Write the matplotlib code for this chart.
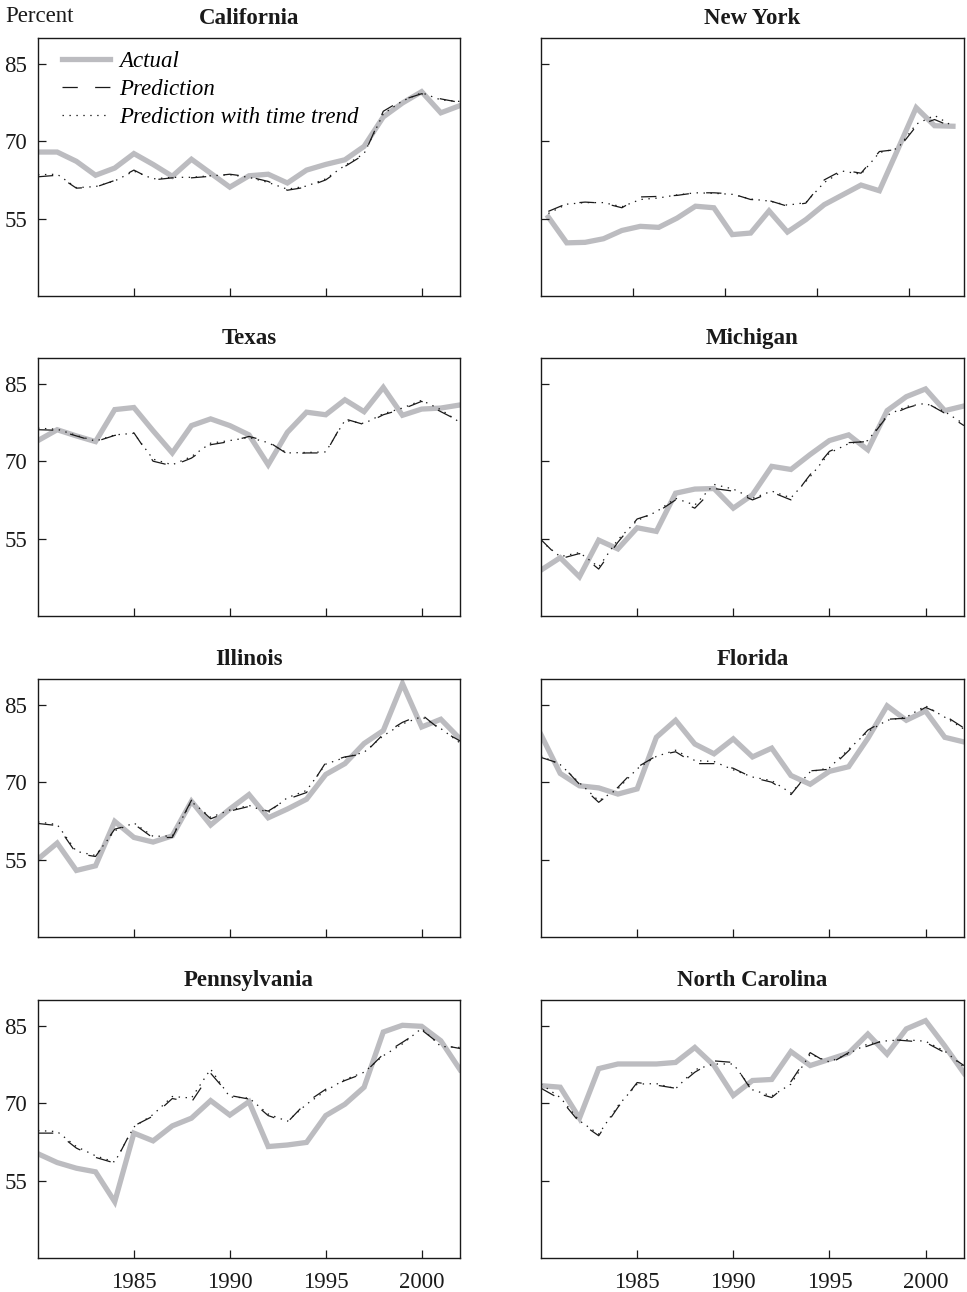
import matplotlib
matplotlib.use("Agg")
import matplotlib.pyplot as plt

plt.rcParams['font.family'] = ['Liberation Serif', 'DejaVu Serif']
plt.rcParams['lines.scale_dashes'] = False

years = list(range(1980, 2003))
states = ['California', 'New York', 'Texas', 'Michigan',
          'Illinois', 'Florida', 'Pennsylvania', 'North Carolina']

# percent, one value per year 1980-2002
actual = {
    'California': [67.9, 67.9, 66.1, 63.4, 64.8, 67.6, 65.5, 63.2, 66.5, 63.8, 61.1, 63.3,
                   63.6, 61.9, 64.4, 65.5, 66.4, 69.0, 74.7, 77.4, 79.6, 75.5, 76.9],
    'New York': [55.3, 50.3, 50.4, 51.1, 52.7, 53.5, 53.3, 55.1, 57.4, 57.1, 51.9, 52.2,
                 56.5, 52.4, 54.8, 57.7, 59.6, 61.5, 60.4, 68.4, 76.5, 73.0, 72.9],
    'Texas': [74.0, 76.1, 74.9, 73.8, 80.0, 80.4, 75.9, 71.6, 76.9, 78.2, 76.9, 75.1,
              69.3, 75.6, 79.5, 79.0, 81.9, 79.6, 84.3, 78.9, 80.1, 80.3, 80.9],
    'Michigan': [48.9, 51.3, 47.6, 54.7, 53.0, 57.1, 56.4, 63.8, 64.6, 64.7, 60.9, 63.5,
                 69.0, 68.4, 71.3, 74.0, 75.1, 72.2, 79.8, 82.5, 84.0, 79.8, 80.7],
    'Illinois': [55.1, 58.2, 52.9, 53.8, 62.4, 59.3, 58.4, 59.6, 66.3, 61.7, 64.8, 67.6,
                 63.1, 64.8, 66.7, 71.5, 73.6, 77.5, 80.0, 89.1, 80.7, 82.2, 78.4],
    'Florida': [79.2, 71.7, 69.3, 68.9, 67.7, 68.7, 78.7, 82.0, 77.4, 75.5, 78.4, 74.9,
                76.6, 71.3, 69.6, 72.1, 73.0, 78.5, 84.8, 82.0, 83.8, 78.7, 77.8],
    'Pennsylvania': [60.2, 58.5, 57.4, 56.7, 50.9, 64.2, 62.7, 65.6, 67.1, 70.5, 67.7, 70.3,
                     61.6, 61.9, 62.4, 67.6, 69.8, 73.1, 83.8, 85.1, 84.9, 82.1, 76.5],
    'North Carolina': [73.4, 73.1, 67.1, 76.7, 77.6, 77.6, 77.6, 77.9, 80.8, 77.3, 71.5, 74.4,
                       74.6, 80.0, 77.3, 78.5, 79.7, 83.4, 79.5, 84.4, 86.0, 81.1, 75.8],
}

prediction = {
    'California': [63.1, 63.4, 60.9, 61.1, 62.4, 64.4, 62.5, 62.9, 62.9, 63.2, 63.6, 63.1,
                   62.2, 60.5, 61.1, 62.5, 65.1, 67.4, 75.8, 78.0, 79.2, 78.2, 77.5],
    'New York': [56.4, 57.9, 58.2, 58.0, 57.1, 59.2, 59.3, 59.5, 60.0, 60.0, 59.8, 58.7,
                 58.5, 57.4, 58.0, 62.5, 64.4, 63.8, 68.0, 68.4, 72.9, 74.2, 72.7],
    'Texas': [76.1, 76.0, 74.9, 73.8, 75.0, 75.5, 70.0, 69.1, 70.6, 73.2, 73.8, 74.8,
              73.8, 71.4, 71.6, 71.6, 78.2, 77.1, 79.0, 80.1, 81.6, 79.6, 77.7],
    'Michigan': [54.8, 51.1, 52.1, 49.1, 54.3, 58.8, 60.0, 62.5, 60.9, 64.7, 64.2, 62.5,
                 64.0, 62.5, 67.4, 71.9, 73.6, 73.8, 78.7, 80.3, 81.4, 79.3, 76.9],
    'Illinois': [62.0, 61.6, 56.2, 55.6, 60.9, 61.9, 59.2, 59.3, 66.5, 62.9, 64.4, 65.3,
                 64.4, 66.7, 68.0, 73.8, 74.9, 75.5, 79.3, 81.6, 83.1, 80.1, 78.0],
    'Florida': [74.8, 73.6, 69.6, 66.1, 69.0, 72.9, 75.1, 75.9, 73.6, 73.6, 72.7, 70.9,
                70.0, 67.6, 72.2, 72.5, 76.1, 80.1, 82.2, 82.4, 84.5, 82.9, 80.5],
    'Pennsylvania': [64.2, 64.2, 61.3, 59.5, 58.4, 65.6, 67.5, 70.9, 70.2, 75.8, 71.5, 70.8,
                     67.6, 66.3, 70.2, 72.7, 74.4, 75.8, 79.5, 81.8, 84.2, 81.3, 80.6],
    'North Carolina': [72.9, 70.8, 66.3, 63.7, 69.2, 74.0, 73.5, 72.9, 76.0, 78.2, 77.9, 72.2,
                       71.1, 74.2, 79.8, 77.6, 79.8, 81.1, 82.4, 82.1, 81.8, 79.8, 77.3],
}

prediction_trend = {
    'California': [63.5, 63.6, 61.0, 61.2, 62.3, 64.2, 62.7, 63.0, 63.0, 63.3, 63.5, 63.0,
                   62.0, 60.7, 61.3, 62.7, 65.3, 67.6, 75.3, 77.8, 79.4, 78.0, 77.7],
    'New York': [56.0, 57.8, 58.1, 58.1, 57.3, 58.7, 59.0, 59.6, 60.0, 59.9, 59.7, 58.8,
                 58.4, 57.6, 58.1, 62.0, 64.2, 63.6, 67.8, 68.6, 73.3, 75.0, 72.9],
    'Texas': [76.4, 76.2, 75.0, 73.9, 75.1, 75.4, 70.4, 69.3, 70.9, 73.5, 74.0, 74.6,
              73.6, 71.6, 71.7, 71.8, 77.9, 77.3, 79.2, 80.3, 81.8, 80.0, 77.5],
    'Michigan': [54.5, 51.5, 52.3, 49.5, 54.8, 58.5, 60.2, 62.8, 61.5, 65.5, 64.6, 62.8,
                 64.2, 62.9, 67.0, 71.6, 73.4, 74.0, 78.9, 80.6, 81.2, 79.6, 77.2],
    'Illinois': [62.3, 61.8, 56.6, 55.8, 60.6, 62.1, 59.5, 59.6, 66.2, 63.2, 64.6, 65.5,
                 64.1, 67.0, 68.4, 73.5, 74.8, 75.8, 79.0, 81.3, 82.7, 80.4, 77.6],
    'Florida': [75.1, 73.4, 69.9, 66.4, 68.7, 72.6, 75.0, 76.2, 74.2, 74.0, 72.4, 71.0,
                70.3, 67.9, 72.0, 72.8, 76.4, 79.8, 82.0, 82.6, 84.8, 82.6, 80.3],
    'Pennsylvania': [64.7, 64.5, 61.6, 59.8, 58.6, 65.4, 67.8, 71.3, 71.0, 76.6, 71.2, 71.0,
                     67.9, 66.5, 69.8, 72.4, 74.6, 76.0, 79.2, 81.5, 84.5, 81.0, 80.8],
    'North Carolina': [73.7, 71.1, 66.6, 64.0, 69.5, 73.7, 73.8, 72.8, 76.5, 77.6, 77.6, 72.6,
                       71.4, 73.7, 79.5, 78.0, 79.6, 81.5, 82.1, 82.3, 82.0, 80.1, 77.0],
}

y_ticks = [55, 70, 85]
x_tick_labels = ['1985', '1990', '1995', '2000']
# New York panel is drawn on a slightly shifted year window
x_window = {'New York': (1979.6, 2002.6)}

W, H = 967, 1292
fig = plt.figure(figsize=(W / 100, H / 100), dpi=100)

col_left = [38, 541]
col_width = [422, 423]
row_top = [38, 358, 679, 1000]
row_height = 258

grey = '#bcbcc0'
ink = '#1a1a1a'

for i, state in enumerate(states):
    r, c = divmod(i, 2)
    left = col_left[c] / W
    bottom = 1 - (row_top[r] + row_height) / H
    ax = fig.add_axes([left, bottom, col_width[c] / W, row_height / H])

    ax.plot(years, actual[state], color=grey, lw=3.8, solid_joinstyle='miter',
            label='Actual', zorder=1)
    ax.plot(years, prediction[state], color=ink, lw=0.9,
            linestyle=(0, (11, 12.5)), label='Prediction', zorder=2)
    ax.plot(years, prediction_trend[state], color=ink, lw=0.9,
            linestyle=(0, (1, 4.0)), label='Prediction with time trend', zorder=3)

    x0, x1 = x_window.get(state, (1980, 2002))
    ax.set_xlim(x0, x1)
    ax.set_ylim(40, 90)
    ax.set_xticks([x0 + 5, x0 + 10, x0 + 15, x0 + 20])
    ax.set_yticks(y_ticks)
    ax.tick_params(direction='in', length=6, width=0.9, colors=ink,
                   labelsize=16.5, top=False, right=False)
    ax.tick_params(axis='x', pad=10)
    ax.tick_params(axis='y', pad=8)
    if r == 3:
        ax.set_xticklabels(x_tick_labels)
    else:
        ax.set_xticklabels([])
    if c == 1:
        ax.set_yticklabels([])
    for sp in ax.spines.values():
        sp.set_linewidth(1.0)
        sp.set_color(ink)
    ax.set_title(state, fontsize=16.5, fontweight='bold', color=ink, pad=10)

    if i == 0:
        ax.legend(loc='upper left', bbox_to_anchor=(0.057, 0.95), frameon=False,
                  borderpad=0, borderaxespad=0, handlelength=2.1,
                  handletextpad=0.4, labelspacing=0.3,
                  prop={'style': 'italic', 'size': 16.5})

fig.text(5 / W, 1 - 22 / H, 'Percent', fontsize=16.5, color=ink,
         ha='left', va='baseline')

fig.savefig('out.png', dpi=100)
